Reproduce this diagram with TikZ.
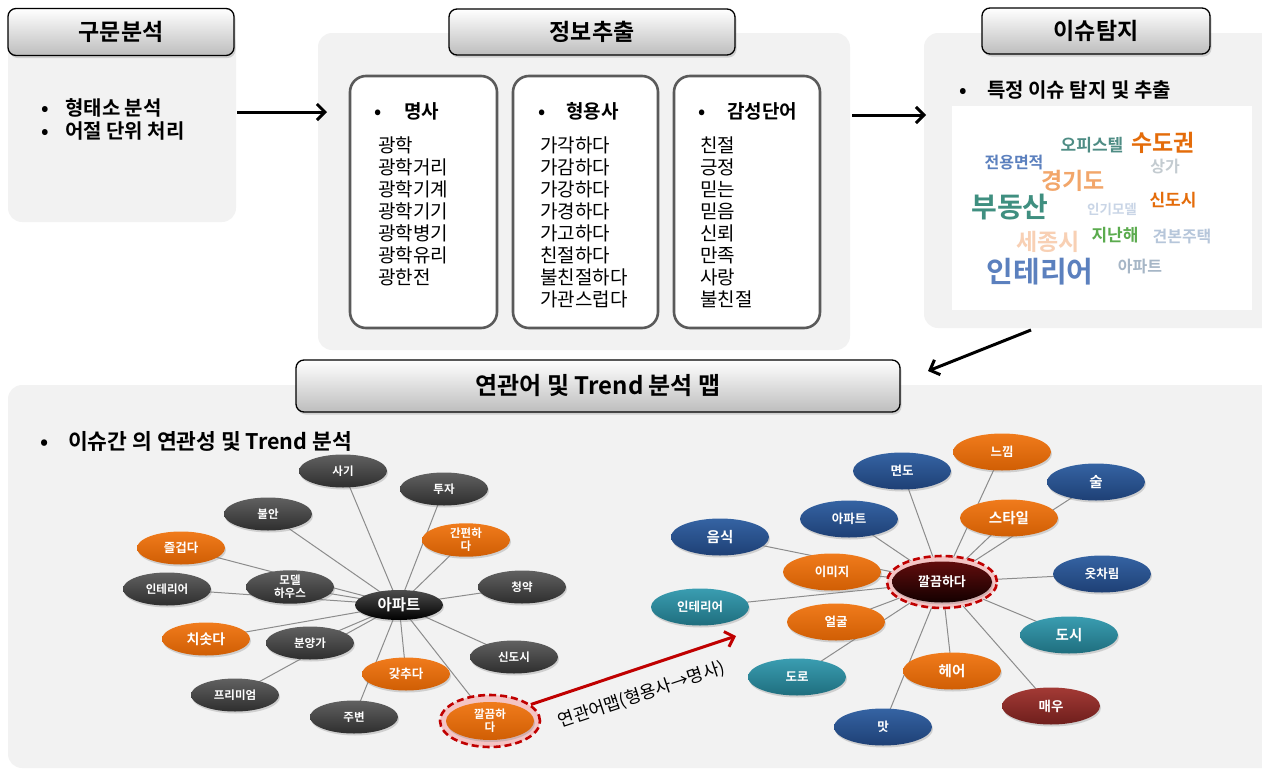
\documentclass[tikz,border=0pt]{standalone}
\usepackage{fontspec}
\setmainfont{Noto Sans CJK KR}[BoldFont={Noto Sans CJK KR Bold}]
\usetikzlibrary{arrows.meta, positioning, shapes.geometric, shadows}

\definecolor{panelgray}{HTML}{F2F2F2}
\definecolor{headgray}{HTML}{BDBDBD}
\definecolor{boxgray}{HTML}{5A5A5A}
\definecolor{linkgray}{HTML}{8C8C8C}
\definecolor{ringred}{HTML}{C00000}
\definecolor{ringpink}{HTML}{F4C4C4}
% node colours
\definecolor{nBlueTop}{HTML}{3563A3}
\definecolor{nBlueBot}{HTML}{1E4075}
\definecolor{nTealTop}{HTML}{3A9DB1}
\definecolor{nTealBot}{HTML}{1F6E7E}
\definecolor{nRedTop}{HTML}{A33A35}
\definecolor{nRedBot}{HTML}{6E1E1C}
\definecolor{nOrTop}{HTML}{F07B1C}
\definecolor{nOrBot}{HTML}{D05E04}
% word cloud colours
\definecolor{wTeal}{HTML}{3F8F80}
\definecolor{wSage}{HTML}{4E8C84}
\definecolor{wOrange}{HTML}{E46C0A}
\definecolor{wPeach}{HTML}{F2A66A}
\definecolor{wSkin}{HTML}{F8D0B4}
\definecolor{wBlue}{HTML}{5B80BE}
\definecolor{wGreen}{HTML}{5BAB4E}
\definecolor{wSilver}{HTML}{C3CBD0}
\definecolor{wMist}{HTML}{C9D5E6}
\definecolor{wHaze}{HTML}{B6C6DA}
\definecolor{wSlate}{HTML}{A6B6C6}

\newcommand{\fsz}[2]{\fontsize{#1}{#2}\selectfont}
\newcommand{\bul}[1][25pt]{\makebox[#1][l]{•}}

\pgfdeclarelayer{panels}
\pgfdeclarelayer{links}
\pgfsetlayers{panels,links,main}

\begin{document}
\begin{tikzpicture}[
  x=1pt, y=-1pt,
  panel/.style={rectangle, fill=panelgray, rounded corners=14pt, inner sep=0pt},
  titlebox/.style={rectangle, draw=black, line width=1.3pt, rounded corners=8pt,
    top color=white, bottom color=headgray, font=\bfseries\fsz{23}{26},
    drop shadow={opacity=0.3, shadow xshift=1.5pt, shadow yshift=-2.5pt}},
  listbox/.style={rectangle, draw=boxgray, line width=2.6pt, rounded corners=16pt,
    fill=white, minimum height=252pt},
  bullet/.style={anchor=west, inner sep=0pt, font=\bfseries\fsz{20}{22}},
  wordlist/.style={anchor=north west, align=left, inner sep=0pt, font=\fsz{19}{22}},
  word/.style={inner sep=0pt, font=\bfseries\fsz{#1}{#1}},
  graphnode/.style={ellipse, minimum width=88pt, minimum height=33pt, inner sep=0pt,
    text=white, align=center, font=\bfseries\fsz{11.5}{13},
    drop shadow={opacity=0.3, shadow xshift=1pt, shadow yshift=-2pt}},
  greynode/.style={graphnode, top color=black!62, bottom color=black!82},
  orangenode/.style={graphnode, top color=nOrTop, bottom color=nOrBot},
  bignode/.style={minimum width=98pt, minimum height=37pt, font=\bfseries\fsz{12.5}{14}},
  bluenode/.style={graphnode, bignode, top color=nBlueTop, bottom color=nBlueBot},
  tealnode/.style={graphnode, bignode, top color=nTealTop, bottom color=nTealBot},
  rednode/.style={graphnode, bignode, top color=nRedTop, bottom color=nRedBot},
  ring/.style={ellipse, draw=ringred, dashed, dash pattern=on 7pt off 4pt,
    line width=2.6pt, fill=ringpink, inner sep=0pt},
  link/.style={draw=linkgray, line width=1pt},
  bigarrow/.style={line width=3pt, -{Straight Barb[length=8pt, width=16pt]}},
  maparrow/.style={bigarrow, draw=ringred}
]
\useasboundingbox (0,0) rectangle (1262,774);

% panels
\begin{pgfonlayer}{panels}
\node[panel, minimum width=228pt, minimum height=192pt] (pParse) at (122,126) {};
\node[panel, minimum width=532pt, minimum height=317pt] (pExtract) at (584,191.5) {};
\node[panel, minimum width=366pt, minimum height=295pt] (pIssue) at (1107,180.5) {};
\node[panel, minimum width=1282pt, minimum height=383pt] (pTrend) at (649,576.5) {};
\end{pgfonlayer}

% headers
\node[titlebox, minimum width=226pt, minimum height=47pt] (tParse) at (121,32) {구문분석};
\node[titlebox, minimum width=286pt, minimum height=46pt] (tExtract) at (592,32) {정보추출};
\node[titlebox, minimum width=228pt, minimum height=46pt] (tIssue) at (1096,31) {이슈탐지};
\node[titlebox, minimum width=604pt, minimum height=52pt, font=\bfseries\fsz{24}{27}] (tTrend) at (598,386) {연관어 및 Trend 분석 맵};

% parsing
\node[bullet] (bMorph) at (41,108) {\bul[24pt]형태소 분석};
\node[bullet] (bPhrase) at (41,131) {\bul[24pt]어절 단위 처리};

% extraction boxes
\node[listbox, minimum width=147pt] (bNoun) at (423.5,202) {};
\node[listbox, minimum width=145pt] (bAdj) at (585.5,202) {};
\node[listbox, minimum width=146pt] (bSent) at (747,202) {};
\node[bullet, font=\bfseries\fsz{19}{21}] (hNoun) at (374,111) {\bul[30pt]명사};
\node[bullet, font=\bfseries\fsz{19}{21}] (hAdj) at (538,111) {\bul[28pt]형용사};
\node[bullet, font=\bfseries\fsz{19}{21}] (hSent) at (698,111) {\bul[29pt]감성단어};
\node[wordlist] (lNoun) at (378,137) {광학\\광학거리\\광학기계\\광학기기\\광학병기\\광학유리\\광한전};
\node[wordlist] (lAdj) at (540,137) {가각하다\\가감하다\\가강하다\\가경하다\\가고하다\\친절하다\\불친절하다\\가관스럽다};
\node[wordlist] (lSent) at (700,137) {친절\\긍정\\믿는\\믿음\\신뢰\\만족\\사랑\\불친절};

% issue detection
\node[bullet] (bDetect) at (959,90) {\bul[28pt]특정 이슈 탐지 및 추출};
\node[fill=white, minimum width=300pt, minimum height=204pt, inner sep=0pt] (cloud) at (1102,208) {};
\node[word=17, text=wSage] (wOffice) at (1092,145) {오피스텔};
\node[word=23, text=wOrange] (wCapital) at (1163,143) {수도권};
\node[word=16, text=wBlue] (wArea) at (1014,163) {전용면적};
\node[word=16, text=wSilver] (wShop) at (1165,166) {상가};
\node[word=23, text=wPeach] (wGyeonggi) at (1073,181) {경기도};
\node[word=28, text=wTeal] (wRealty) at (1010,207) {부동산};
\node[word=13.5, text=wMist] (wModel) at (1112,209) {인기모델};
\node[word=17, text=wOrange] (wNewtown) at (1173,200) {신도시};
\node[word=23, text=wSkin] (wSejong) at (1048,242) {세종시};
\node[word=17, text=wGreen] (wLastyear) at (1115,235) {지난해};
\node[word=16, text=wHaze] (wSample) at (1182,237) {견본주택};
\node[word=29, text=wBlue] (wInterior) at (1040,272) {인테리어};
\node[word=16, text=wSlate] (wApt) at (1140,267) {아파트};

% flow arrows
\coordinate (parseOut) at (237,112);
\coordinate (extractIn) at (327,112);
\coordinate (extractOut) at (852,115);
\coordinate (issueIn) at (926,115);
\coordinate (issueOut) at (1031,330);
\coordinate (trendIn) at (928,371);
\draw[bigarrow] (parseOut) -- (extractIn);
\draw[bigarrow] (extractOut) -- (issueIn);
\draw[bigarrow] (issueOut) -- (trendIn);

% trend analysis
\node[bullet, font=\bfseries\fsz{21.5}{24}] (bTrend) at (40,441) {\bul[28pt]이슈간 의 연관성 및 Trend 분석};

% left map: 아파트
\node[greynode] (saki) at (343,471) {사기};
\node[greynode] (tuja) at (444,489) {투자};
\node[greynode] (buran) at (268,514) {불안};
\node[orangenode] (ganpyeon) at (466,540) {간편하\\다};
\node[orangenode, font=\bfseries\fsz{12.5}{14}] (jeulgeop) at (181,548) {즐겁다};
\node[greynode] (model) at (290,587) {모델\\하우스};
\node[greynode] (interL) at (167,589) {인테리어};
\node[greynode] (cheongyak) at (522,587) {청약};
\node[orangenode, font=\bfseries\fsz{14}{16}] (chisot) at (206,639) {치솟다};
\node[greynode] (bunyang) at (310,643) {분양가};
\node[greynode] (sindosi) at (514,657) {신도시};
\node[orangenode, font=\bfseries\fsz{12.5}{14}] (gatchu) at (406,674) {갖추다};
\node[greynode] (premium) at (235,695) {프리미엄};
\node[greynode] (jubyeon) at (354,717) {주변};
\node[ring, minimum width=100pt, minimum height=52pt] (ringL) at (490,721) {};
\node[orangenode, minimum width=88pt, minimum height=38pt] (kkalL) at (490,721) {깔끔하\\다};
\node[graphnode, minimum height=30pt, top color=black!70, bottom color=black, font=\bfseries\fsz{15.5}{17}] (aptL) at (399,605) {아파트};

% right map: 깔끔하다
\node[bluenode] (myeondo) at (902,471) {면도};
\node[orangenode, bignode] (neukkim) at (1002,452) {느낌};
\node[bluenode, font=\bfseries\fsz{14.5}{16}] (sul) at (1096,482) {술};
\node[bluenode] (aptR) at (849,519) {아파트};
\node[orangenode, bignode, font=\bfseries\fsz{14.5}{16}] (style) at (1009,518) {스타일};
\node[bluenode, font=\bfseries\fsz{14.5}{16}] (eumsik) at (720,537) {음식};
\node[orangenode, bignode] (image) at (832,572) {이미지};
\node[bluenode] (otcharim) at (1102,574) {옷차림};
\node[tealnode] (interR) at (700,607) {인테리어};
\node[orangenode, bignode] (eolgul) at (836,622) {얼굴};
\node[tealnode, font=\bfseries\fsz{14.5}{16}] (dosi) at (1069,635) {도시};
\node[tealnode] (doro) at (797,677) {도로};
\node[orangenode, bignode, font=\bfseries\fsz{14.5}{16}] (heeo) at (952,671) {헤어};
\node[rednode, font=\bfseries\fsz{13.5}{15}] (maeu) at (1051,706) {매우};
\node[bluenode] (mat) at (883,727) {맛};
\node[ring, minimum width=110pt, minimum height=52pt] (ringR) at (942,582) {};
\node[graphnode, minimum width=100pt, minimum height=41pt, top color=red!35!black!95, bottom color=red!30!black!25!black, font=\bfseries\fsz{13}{15}] (kkalR) at (942,582) {깔끔하다};

% links
\begin{pgfonlayer}{links}
\draw[link] (aptL.center) -- (saki.center) (aptL.center) -- (tuja.center)
  (aptL.center) -- (buran.center) (aptL.center) -- (ganpyeon.center)
  (aptL.center) -- (jeulgeop.center) (aptL.center) -- (model.center)
  (aptL.center) -- (interL.center) (aptL.center) -- (cheongyak.center)
  (aptL.center) -- (chisot.center) (aptL.center) -- (bunyang.center)
  (aptL.center) -- (sindosi.center) (aptL.center) -- (gatchu.center)
  (aptL.center) -- (premium.center) (aptL.center) -- (jubyeon.center)
  (aptL.center) -- (kkalL.center);
\draw[link] (kkalR.center) -- (myeondo.center) (kkalR.center) -- (neukkim.center)
  (kkalR.center) -- (sul.center) (kkalR.center) -- (aptR.center)
  (kkalR.center) -- (style.center) (kkalR.center) -- (eumsik.center)
  (kkalR.center) -- (image.center) (kkalR.center) -- (otcharim.center)
  (kkalR.center) -- (interR.center) (kkalR.center) -- (eolgul.center)
  (kkalR.center) -- (dosi.center) (kkalR.center) -- (doro.center)
  (kkalR.center) -- (heeo.center) (kkalR.center) -- (maeu.center)
  (kkalR.center) -- (mat.center);
\end{pgfonlayer}

% association map arrow
\coordinate (mapEnd) at (736,636);
\draw[maparrow] (ringL.22) -- node[sloped, below=12pt, font=\fsz{17.5}{20}, text=black] (mapLabel) {연관어맵(형용사→명사)} (mapEnd);
\end{tikzpicture}
\end{document}
